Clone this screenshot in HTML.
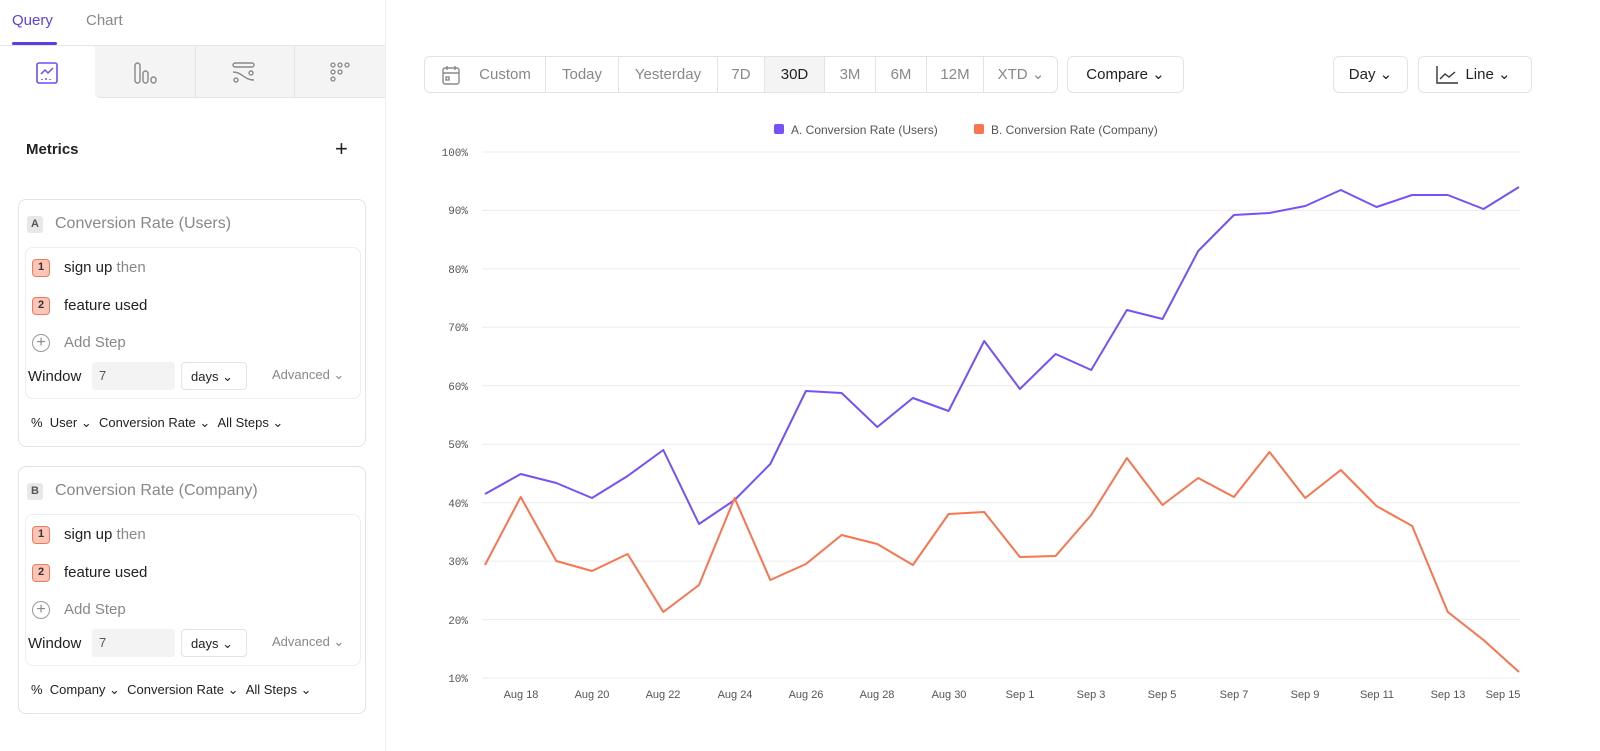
<!DOCTYPE html>
<html><head><style>
*{box-sizing:border-box;margin:0;padding:0}
body{width:1600px;height:751px;background:#fff;font-family:"Liberation Sans",sans-serif;position:relative;overflow:hidden;color:#222}
.a{position:absolute}
.g{color:#888}
.card{position:absolute;left:18px;width:348px;height:248px;border:1px solid #e3e3e3;border-radius:8px}
.inner{position:absolute;left:6px;top:47px;width:336px;height:152px;border:1px solid #eee;border-radius:8px}
.hex{position:absolute;width:18px;height:18px;background:#fcc5b8;border:1.5px solid #f07b5c;border-radius:4px;font-size:11px;text-align:center;line-height:15px;font-weight:bold;color:#333}
.t15{font-size:15px}
.btn{position:absolute;top:56px;height:37px;border:1px solid #e3e3e3;border-radius:6px;font-size:15px;line-height:35px;text-align:center}
.seg{position:absolute;top:0;height:35px;border-left:1px solid #e3e3e3;color:#888;text-align:center}
</style></head><body>
<div class="a" style="left:12px;top:12px;font-size:15px;color:#5b3fe6">Query</div>
<div class="a" style="left:12px;top:42px;width:45px;height:3px;background:#5b3fe6;border-radius:2px"></div>
<div class="a" style="left:86px;top:12px;font-size:15px;color:#888">Chart</div>
<div class="a" style="left:0;top:45px;width:385px;height:1px;background:#e6e6e6"></div>
<div class="a" style="left:95px;top:46px;width:290px;height:52px;background:#f4f4f4;border-bottom:1px solid #e3e3e3;border-bottom-left-radius:6px"></div>
<div class="a" style="left:195px;top:46px;width:1px;height:51px;background:#e3e3e3"></div>
<div class="a" style="left:294px;top:46px;width:1px;height:51px;background:#e3e3e3"></div>
<svg class="a" style="left:36px;top:62px" width="22" height="22"><rect x="1" y="1" width="20" height="20" rx="2" fill="none" stroke="#6b4ef5" stroke-width="1.6"/><path d="M5 12 L9 8 L12 11 L17 6" fill="none" stroke="#6b4ef5" stroke-width="1.5"/><path d="M6 17v1M10 16v2M14 17v1" stroke="#6b4ef5" stroke-width="1.5"/></svg>
<svg class="a" style="left:134px;top:62px" width="24" height="22" fill="none" stroke="#888" stroke-width="1.4"><rect x="1" y="1" width="5" height="20" rx="2.5"/><rect x="9" y="9" width="5" height="12" rx="2.5"/><rect x="17" y="15" width="5" height="6" rx="2.5"/></svg>
<svg class="a" style="left:232px;top:62px" width="24" height="22" fill="none" stroke="#888" stroke-width="1.4"><rect x="1" y="1" width="21" height="4" rx="2"/><path d="M1 10 C10 10 12 18 22 18"/><circle cx="19" cy="11" r="2"/><circle cx="4" cy="18" r="2"/></svg>
<svg class="a" style="left:330px;top:62px" width="22" height="22" fill="none" stroke="#888" stroke-width="1.3"><circle cx="3" cy="3" r="2"/><circle cx="10" cy="3" r="2"/><circle cx="17" cy="3" r="2"/><circle cx="3" cy="10" r="2"/><circle cx="10" cy="10" r="2"/><circle cx="3" cy="17" r="2"/></svg>
<div class="a" style="left:26px;top:141px;font-size:15px;font-weight:bold">Metrics</div>
<div class="a" style="left:335px;top:136px;font-size:22px;font-weight:300">+</div>
<div class="a" style="left:385px;top:0;width:1px;height:751px;background:#eee"></div>

<div class="card" style="top:199px">
 <div class="a" style="left:8px;top:16px;width:16px;height:17px;background:#e8e8e8;border-radius:3px;font-size:11px;font-weight:bold;text-align:center;line-height:17px;color:#555">A</div>
 <div class="a g" style="left:36px;top:15px;font-size:16px">Conversion Rate (Users)</div>
 <div class="inner">
  <div class="hex" style="left:6px;top:11px">1</div><div class="a t15" style="left:38px;top:11px">sign up <span class="g">then</span></div>
  <div class="hex" style="left:6px;top:49px">2</div><div class="a t15" style="left:38px;top:49px">feature used</div>
  <div class="a" style="left:6px;top:86px;width:18px;height:18px;border:1.3px solid #999;border-radius:50%;text-align:center;line-height:15px;color:#888">+</div><div class="a t15 g" style="left:38px;top:86px">Add Step</div>
  <div class="a t15" style="left:2px;top:120px">Window</div>
  <div class="a" style="left:66px;top:114px;width:83px;height:28px;background:#f3f3f3;border-radius:3px;font-size:13px;padding:6px 7px;color:#555">7</div>
  <div class="a" style="left:155px;top:114px;width:66px;height:28px;border:1px solid #e3e3e3;border-radius:4px;font-size:13px;padding:6px 9px">days ⌄</div>
  <div class="a g" style="left:246px;top:119px;font-size:13px">Advanced ⌄</div>
 </div>
 <div class="a" style="left:12px;top:215px;font-size:13px">%&nbsp; User ⌄ &nbsp;Conversion Rate ⌄ &nbsp;All Steps ⌄</div>
</div>

<div class="card" style="top:466px">
 <div class="a" style="left:8px;top:16px;width:16px;height:17px;background:#e8e8e8;border-radius:3px;font-size:11px;font-weight:bold;text-align:center;line-height:17px;color:#555">B</div>
 <div class="a g" style="left:36px;top:15px;font-size:16px">Conversion Rate (Company)</div>
 <div class="inner">
  <div class="hex" style="left:6px;top:11px">1</div><div class="a t15" style="left:38px;top:11px">sign up <span class="g">then</span></div>
  <div class="hex" style="left:6px;top:49px">2</div><div class="a t15" style="left:38px;top:49px">feature used</div>
  <div class="a" style="left:6px;top:86px;width:18px;height:18px;border:1.3px solid #999;border-radius:50%;text-align:center;line-height:15px;color:#888">+</div><div class="a t15 g" style="left:38px;top:86px">Add Step</div>
  <div class="a t15" style="left:2px;top:120px">Window</div>
  <div class="a" style="left:66px;top:114px;width:83px;height:28px;background:#f3f3f3;border-radius:3px;font-size:13px;padding:6px 7px;color:#555">7</div>
  <div class="a" style="left:155px;top:114px;width:66px;height:28px;border:1px solid #e3e3e3;border-radius:4px;font-size:13px;padding:6px 9px">days ⌄</div>
  <div class="a g" style="left:246px;top:119px;font-size:13px">Advanced ⌄</div>
 </div>
 <div class="a" style="left:12px;top:215px;font-size:13px">%&nbsp; Company ⌄ &nbsp;Conversion Rate ⌄ &nbsp;All Steps ⌄</div>
</div>

<div class="btn" style="left:424px;width:634px">
 <svg class="a" style="left:17px;top:8px" width="18" height="20" fill="none" stroke="#888" stroke-width="1.4"><rect x="1" y="3" width="16" height="16" rx="2"/><path d="M1 8h16M5 1v4M13 1v4"/><rect x="4" y="12" width="3" height="3"/></svg>
 <div class="seg" style="left:40px;width:80px;border:none">Custom</div>
 <div class="seg" style="left:120px;width:73px">Today</div>
 <div class="seg" style="left:193px;width:99px">Yesterday</div>
 <div class="seg" style="left:292px;width:47px">7D</div>
 <div class="seg" style="left:339px;width:60px;background:#f4f4f4;color:#222">30D</div>
 <div class="seg" style="left:399px;width:51px">3M</div>
 <div class="seg" style="left:450px;width:51px">6M</div>
 <div class="seg" style="left:501px;width:57px">12M</div>
 <div class="seg" style="left:558px;width:75px">XTD ⌄</div>
</div>
<div class="btn" style="left:1067px;width:117px">Compare ⌄</div>
<div class="btn" style="left:1333px;width:75px">Day ⌄</div>
<div class="btn" style="left:1418px;width:114px;padding-left:26px">Line ⌄<svg class="a" style="left:17px;top:9px" width="22" height="18" fill="none" stroke="#333" stroke-width="1.4"><path d="M1 0v17h21M4 13l5-5 4 3 6-5"/></svg></div>

<svg class="a" style="left:0;top:0" width="1600" height="751" font-family="Liberation Mono, monospace">
<rect x="774" y="124" width="10" height="10" rx="2" fill="#7551f7"/>
<text x="791" y="134" font-family="Liberation Sans" font-size="12" fill="#555">A. Conversion Rate (Users)</text>
<rect x="974" y="124" width="10" height="10" rx="2" fill="#f9744f"/>
<text x="991" y="134" font-family="Liberation Sans" font-size="12" fill="#555">B. Conversion Rate (Company)</text>
<g stroke="#ececec" stroke-width="1">
<line x1="482" x2="1520" y1="152" y2="152"/><line x1="482" x2="1520" y1="210.4" y2="210.4"/><line x1="482" x2="1520" y1="268.9" y2="268.9"/><line x1="482" x2="1520" y1="327.3" y2="327.3"/><line x1="482" x2="1520" y1="385.8" y2="385.8"/><line x1="482" x2="1520" y1="444.2" y2="444.2"/><line x1="482" x2="1520" y1="502.7" y2="502.7"/><line x1="482" x2="1520" y1="561.1" y2="561.1"/><line x1="482" x2="1520" y1="619.6" y2="619.6"/><line x1="482" x2="1520" y1="678" y2="678"/>
</g>
<g font-size="11" fill="#555" text-anchor="end">
<text x="468" y="156">100%</text><text x="468" y="214">90%</text><text x="468" y="273">80%</text><text x="468" y="331">70%</text><text x="468" y="390">60%</text><text x="468" y="448">50%</text><text x="468" y="507">40%</text><text x="468" y="565">30%</text><text x="468" y="624">20%</text><text x="468" y="682">10%</text>
</g>
<g font-size="11" fill="#555" text-anchor="middle" font-family="Liberation Sans">
<text x="521" y="698">Aug 18</text><text x="592" y="698">Aug 20</text><text x="663" y="698">Aug 22</text><text x="735" y="698">Aug 24</text><text x="806" y="698">Aug 26</text><text x="877" y="698">Aug 28</text><text x="949" y="698">Aug 30</text><text x="1020" y="698">Sep 1</text><text x="1091" y="698">Sep 3</text><text x="1162" y="698">Sep 5</text><text x="1234" y="698">Sep 7</text><text x="1305" y="698">Sep 9</text><text x="1377" y="698">Sep 11</text><text x="1448" y="698">Sep 13</text><text x="1503" y="698">Sep 15</text>
</g>
<polyline fill="none" stroke="#7551f7" stroke-width="2" stroke-linejoin="round" points="485,494 520.7,474 556.3,483 592,498 627.6,476 663.3,450 699,524 734.6,500 770.3,464 805.9,391 841.6,393 877.3,427 912.9,398 948.6,411 984.2,341 1019.9,389 1055.6,354 1091.2,370 1126.9,310 1162.5,319 1198.2,251 1233.9,215 1269.5,213 1305.2,206 1340.8,190 1376.5,207 1412.2,195 1447.8,195 1483.5,209 1519,187"/>
<polyline fill="none" stroke="#f9744f" stroke-width="2" stroke-linejoin="round" points="485,565 520.7,497 556.3,561 592,571 627.6,554 663.3,612 699,585 734.6,498 770.3,580 805.9,564 841.6,535 877.3,544 912.9,565 948.6,514 984.2,512 1019.9,557 1055.6,556 1091.2,515 1126.9,458 1162.5,505 1198.2,478 1233.9,497 1269.5,452 1305.2,498 1340.8,470 1376.5,506 1412.2,526 1447.8,612 1483.5,640 1519,672"/>
</svg>
</body></html>
